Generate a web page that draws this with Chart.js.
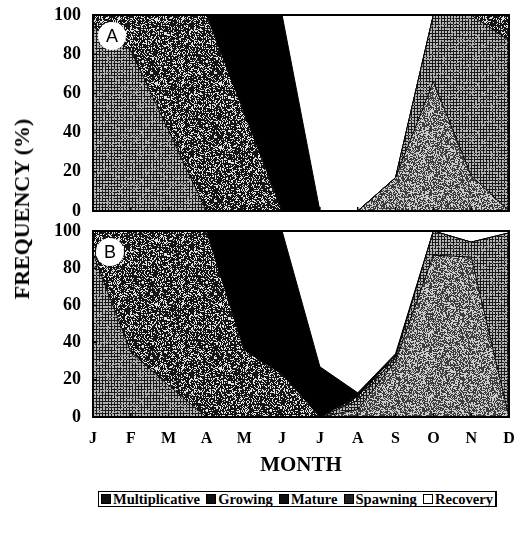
<!DOCTYPE html>
<html>
<head>
<meta charset="utf-8">
<script src="https://cdn.jsdelivr.net/npm/chart.js@4.4.1/dist/chart.umd.min.js"></script>
<style>
  body { margin: 0; background: #fff; }
  #wrap { position: relative; width: 525px; height: 534px; font-family: "Liberation Serif", "Times New Roman", serif; color: #000; }
  canvas { position: absolute; left: 0; }
  .badge {
    position: absolute; width: 28px; height: 28px; border-radius: 50%; background: #fff;
    font: 18px "Liberation Sans", Arial, sans-serif; line-height: 28px; text-align: center;
  }
  #yTitle {
    position: absolute; left: 22px; top: 209px; transform: translate(-50%, -50%) rotate(-90deg);
    font-weight: bold; font-size: 22px; white-space: nowrap;
  }
  #xTitle {
    position: absolute; left: 301px; top: 464px; transform: translate(-50%, -50%);
    font-weight: bold; font-size: 21px; white-space: nowrap;
  }
  #legend {
    position: absolute; left: 98px; top: 491px; width: 399px; height: 16px;
    border: 1px solid #000; border-right-width: 2px; display: flex; justify-content: space-between;
    align-items: center; padding: 0 2px; box-sizing: border-box;
    font-weight: bold; font-size: 14.5px; white-space: nowrap;
  }
  #legend span { display: flex; align-items: center; }
  #legend i { display: inline-block; width: 10px; height: 10px; margin-right: 2px; box-sizing: border-box; border: 1px solid #000; }
</style>
</head>
<body>
<div id="wrap">
  <canvas id="chartA" width="525" height="221" style="top:0"></canvas>
  <canvas id="chartB" width="525" height="250" style="top:221px"></canvas>
  <div class="badge" style="left:98px;top:22px">A</div>
  <div class="badge" style="left:96px;top:238px">B</div>
  <div id="yTitle">FREQUENCY (%)</div>
  <div id="xTitle">MONTH</div>
  <div id="legend"></div>
</div>
<script>
// months Jan..Dec
const months = ["J", "F", "M", "A", "M", "J", "J", "A", "S", "O", "N", "D"];
const stages = ["Multiplicative", "Growing", "Mature", "Spawning", "Recovery"];
const yTicks = [0, 20, 40, 60, 80, 100];

// panel A, % of each stage per month
const multA = [0, 0, 0, 0, 0, 0, 0, 0, 17, 66, 18, 0];
const growA = [94, 82, 41, 0, 0, 0, 0, 0, 0, 34, 82, 87];
const matureA = [6, 18, 59, 100, 50, 0, 0, 0, 0, 0, 0, 13];
const spawnA = [0, 0, 0, 0, 50, 100, 0, 0, 0, 0, 0, 0];
const recovA = [0, 0, 0, 0, 0, 0, 100, 100, 83, 0, 0, 0];

// panel B
const multB = [0, 0, 0, 0, 0, 0, 0, 4, 30, 87, 86, 0];
const growB = [88, 35, 17, 0, 0, 0, 0, 5, 2, 13, 8, 99];
const matureB = [12, 65, 83, 100, 36, 23, 0, 2, 1, 0, 0, 0];
const spawnB = [0, 0, 0, 0, 64, 77, 27, 2, 1, 0, 0, 0];
const recovB = [0, 0, 0, 0, 0, 0, 73, 87, 66, 0, 6, 1];

const serif = "'Liberation Serif', 'Times New Roman', serif";

// small hash for the scanned-looking textures
function hash(x, y, seed) {
    let h = Math.imul(x + seed * 131, 374761393) ^ Math.imul(y, 668265263);
    h = Math.imul(h ^ (h >>> 13), 1274126177);
    return ((h ^ (h >>> 16)) >>> 0) / 4294967295;
}

function makePattern(size, shade) {
    const c = document.createElement("canvas");
    c.width = c.height = size;
    const g = c.getContext("2d");
    const img = g.createImageData(size, size);
    for (let y = 0; y < size; y++) {
        for (let x = 0; x < size; x++) {
            const v = shade(x, y);
            const i = (y * size + x) * 4;
            img.data[i] = img.data[i + 1] = img.data[i + 2] = v;
            img.data[i + 3] = 255;
        }
    }
    g.putImageData(img, 0, 0);
    return g.createPattern(c, "repeat");
}

const fills = [
    makePattern(64, (x, y) => (hash(x, y, 1) < 0.55 ? 60 : 205)),
    makePattern(48, (x, y) => (x % 3 === 0 || y % 3 === 0 ? (hash(x, y, 2) < 0.85 ? 25 : 140) : 185)),
    makePattern(64, (x, y) => (hash(x, y, 3) < 0.3 ? 225 : 20)),
    "#000",
    "#fff",
];
const swatches = ["#111", "#111", "#111", "#222", "#fff"];

const framePlugin = {
    id: "frame",
    afterDatasetsDraw(chart) {
        const { ctx, chartArea: a, scales } = chart;
        ctx.save();
        ctx.strokeStyle = "#000";
        ctx.lineWidth = 2;
        ctx.strokeRect(a.left, a.top, a.right - a.left, a.bottom - a.top);
        ctx.lineWidth = 1.5;
        ctx.beginPath();
        months.forEach((m, i) => {
            const px = scales.x.getPixelForValue(i);
            ctx.moveTo(px, a.bottom);
            ctx.lineTo(px, a.bottom - 4);
        });
        yTicks.forEach((v) => {
            const py = scales.y.getPixelForValue(v);
            ctx.moveTo(a.left, py);
            ctx.lineTo(a.left + 4, py);
        });
        ctx.stroke();
        ctx.restore();
    },
};

function makeChart(id, series, showX, padding) {
    const datasets = series.map((data, i) => ({
        label: stages[i],
        data,
        backgroundColor: fills[i],
        borderColor: "#000",
        borderWidth: 1,
        pointRadius: 0,
        tension: 0,
        fill: i === 0 ? "origin" : "-1",
    }));
    return new Chart(document.getElementById(id), {
        type: "line",
        data: { labels: months, datasets },
        options: {
            responsive: false,
            animation: false,
            layout: { padding },
            plugins: { legend: { display: false }, tooltip: { enabled: false } },
            scales: {
                x: {
                    display: showX,
                    offset: false,
                    grid: { display: false, drawTicks: false },
                    border: { display: false },
                    ticks: { color: "#000", font: { family: serif, weight: "bold", size: 16 }, padding: 12, maxRotation: 0, autoSkip: false },
                    afterFit: (s) => {
                        s.height = showX ? 34 : 0;
                        s.paddingLeft = 0;
                        s.paddingRight = 0;
                    },
                },
                y: {
                    stacked: true,
                    min: yTicks[0],
                    max: yTicks[yTicks.length - 1],
                    grid: { display: false, drawTicks: false },
                    border: { display: false },
                    ticks: { stepSize: 20, color: "#000", font: { family: serif, weight: "bold", size: 18 }, padding: 12 },
                    afterFit: (s) => {
                        s.width = 93;
                        s.paddingTop = 0;
                        s.paddingBottom = 0;
                    },
                },
            },
        },
        plugins: [framePlugin],
    });
}

makeChart("chartA", [multA, growA, matureA, spawnA, recovA], false, { top: 15, right: 16, bottom: 10, left: 0 });
makeChart("chartB", [multB, growB, matureB, spawnB, recovB], true, { top: 10, right: 16, bottom: 20, left: 0 });

document.getElementById("legend").innerHTML = stages
    .map((s, i) => `<span><i style="background:${swatches[i]}"></i>${s}</span>`)
    .join("");
</script>
</body>
</html>
